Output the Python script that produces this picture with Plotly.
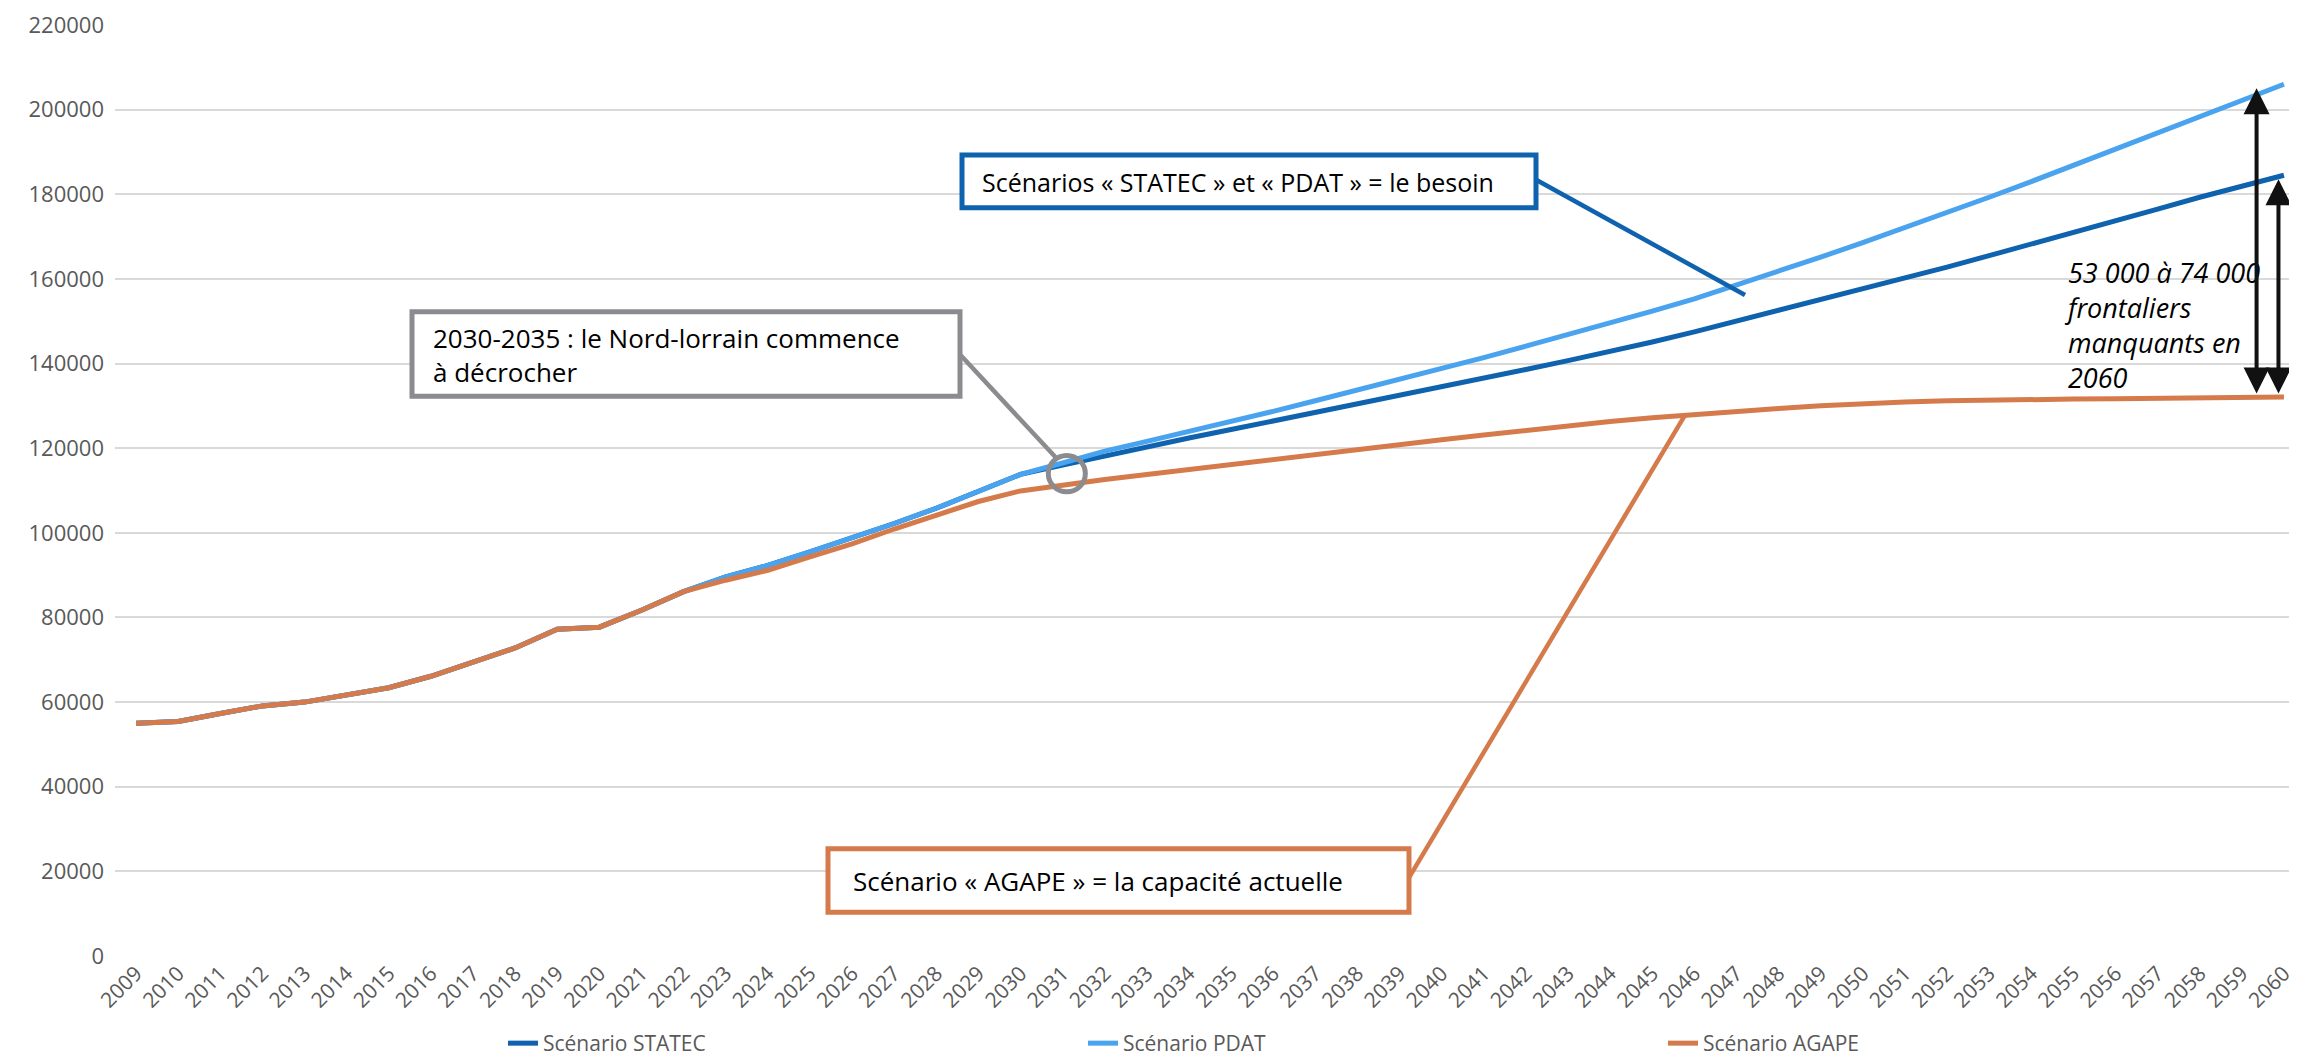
import plotly.graph_objects as go

# ---- data ----
years = list(range(2009, 2061))

# observed part, common to the three scenarios (2009-2022)
history = [55000, 55400, 57300, 59100, 60000, 61600, 63400, 66100, 69400,
           72800, 77200, 77700, 81700, 86100]

# projections 2023-2060
statec_proj = [89600, 92300, 95500, 98800, 102200, 105800, 109700, 113800,
               116000, 118200, 120300, 122400, 124400, 126400, 128400, 130400,
               132400, 134400, 136500, 138600, 140700, 142800, 145100, 147500,
               150000, 152500, 155000, 157600, 160200, 162800, 165500, 168200,
               170900, 173700, 176500, 179300, 181900, 184500]
pdat_proj = [89600, 92300, 95500, 98800, 102200, 105800, 109700, 113800,
             116500, 119300, 121600, 123900, 126300, 128700, 131200, 133700,
             136200, 138800, 141400, 144100, 146800, 149600, 152400, 155300,
             158500, 161800, 165150, 168600, 172100, 175700, 179300, 183000,
             186800, 190600, 194500, 198400, 202200, 206000]
agape_proj = [88800, 91150, 94300, 97400, 100900, 104200, 107400, 109900,
              111400, 112600, 113800, 115000, 116200, 117400, 118600, 119700,
              120800, 122000, 123100, 124200, 125300, 126300, 127200, 128000,
              128700, 129400, 130000, 130500, 130900, 131200, 131400, 131500,
              131600, 131700, 131800, 131900, 132000, 132100]

statec = history + statec_proj
pdat = history + pdat_proj
agape = history + agape_proj

series_names = ["Scénario STATEC", "Scénario PDAT", "Scénario AGAPE"]
y_ticks = list(range(0, 220001, 20000))

DARK_BLUE = "#0F62AE"
LIGHT_BLUE = "#4AA3EE"
ORANGE = "#D57B4B"
GREY = "#8C8C90"
FONT = "Open Sans"

W, H = 2297, 1056
L, R, T, B = 107, 0, 17, 101


def px(x):
    """Pixel column -> paper x."""
    return (x - L) / (W - L - R)


def py(y):
    """Pixel row -> paper y."""
    return (H - B - y) / (H - T - B)


fig = go.Figure()
for name, values, color in zip(series_names, [statec, pdat, agape],
                               [DARK_BLUE, LIGHT_BLUE, ORANGE]):
    fig.add_trace(go.Scatter(x=years, y=values, name=name, mode="lines",
                             line=dict(color=color, width=5)))


def box(x0, y0, x1, y1, color):
    fig.add_shape(type="rect", xref="paper", yref="paper",
                  x0=px(x0), x1=px(x1), y0=py(y0), y1=py(y1),
                  line=dict(color=color, width=5), fillcolor="white", layer="above")


def pointer(x0, y0, x1, y1, color):
    fig.add_shape(type="line", xref="paper", yref="paper",
                  x0=px(x0), x1=px(x1), y0=py(y0), y1=py(y1),
                  line=dict(color=color, width=4.5), layer="above")


def label(x, y, text, size=26, style="normal"):
    fig.add_annotation(xref="paper", yref="paper", x=px(x), y=py(y), text=text,
                       showarrow=False, xanchor="left", yanchor="middle", align="left",
                       font=dict(family=FONT, size=size, color="black", style=style))


# "besoin" call-out
pointer(1528, 173, 1737, 289, DARK_BLUE)
box(954, 148, 1528, 201, DARK_BLUE)
label(972, 175, "Scénarios « STATEC » et « PDAT » = le besoin", size=25)

# "décrocher" call-out
pointer(952, 349, 1049, 454, GREY)
box(404, 306, 952, 391, GREY)
label(423, 349, "2030-2035 : le Nord-lorrain commence<br>à décrocher")
fig.add_shape(type="circle", xref="x", yref="y",
              x0=2030.66, x1=2031.54, y0=109700, y1=118300,
              line=dict(color=GREY, width=5), layer="above")

# "capacité" call-out
pointer(1401, 876, 1677, 410, ORANGE)
box(820, 847, 1401, 911, ORANGE)
label(843, 879, "Scénario « AGAPE » = la capacité actuelle")

# gap in 2060
label(2054, 319, "53 000 à 74 000<br>frontaliers<br>manquants en<br>2060",
      size=27, style="italic")
for xa, top in [(2059.35, pdat[-1]), (2059.87, statec[-1])]:
    fig.add_annotation(x=xa, y=top, ax=xa, ay=agape[-1], axref="x", ayref="y",
                       text="", showarrow=True, arrowhead=2, arrowside="end+start",
                       arrowsize=1.3, arrowwidth=4, arrowcolor="#111111", standoff=4,
                       startstandoff=2)

fig.update_layout(
    width=W, height=H,
    margin=dict(l=L, r=R, t=T, b=B),
    plot_bgcolor="white", paper_bgcolor="white",
    font=dict(family=FONT, size=22, color="#595959"),
    showlegend=True,
    legend=dict(orientation="h", x=px(495), xanchor="left", y=-0.094, yanchor="middle",
                entrywidth=535, entrywidthmode="pixels", font=dict(size=21)),
    xaxis=dict(range=[2008.5, 2060.5], tickmode="array", tickvals=years,
               tickangle=-45, showgrid=False, showline=False, zeroline=False,
               ticks="", tickfont=dict(size=21)),
    yaxis=dict(range=[0, 220000], tickmode="array", tickvals=y_ticks, tickformat="d",
               showgrid=True, gridcolor="#D9D9D9", gridwidth=1.5, zeroline=False,
               showline=False, ticks="", ticklabelstandoff=10),
)

fig.write_html("out.html")
